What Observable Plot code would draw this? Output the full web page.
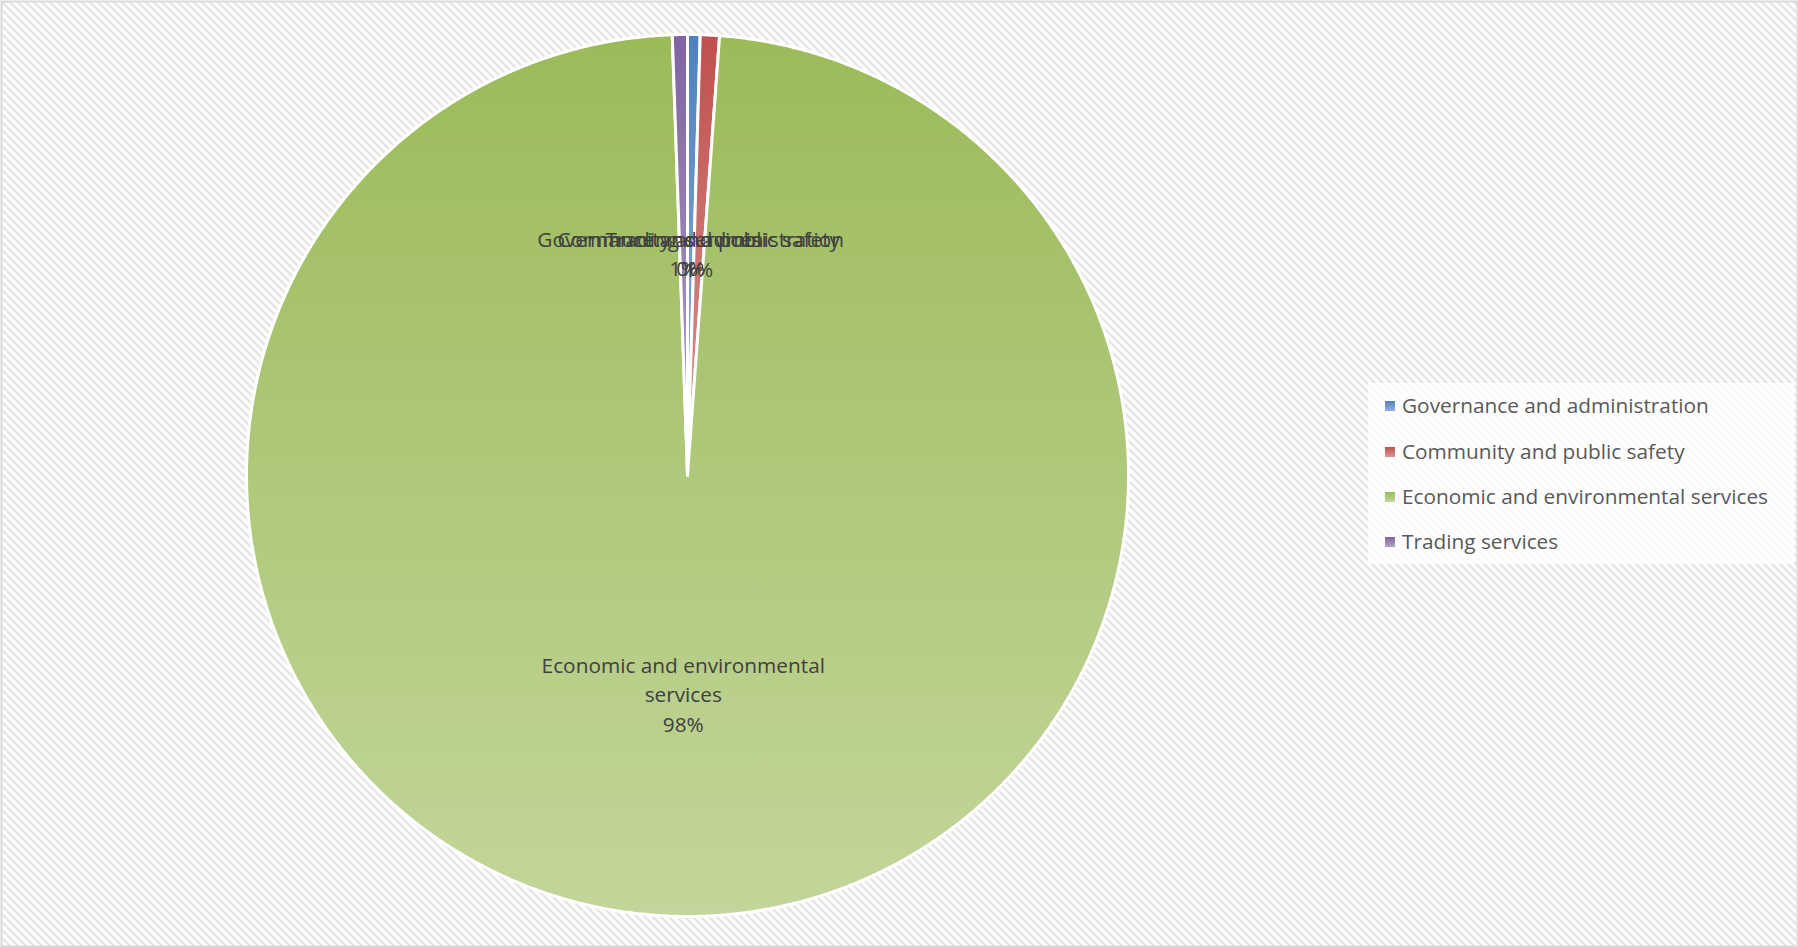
<!DOCTYPE html>
<html>
<head>
<meta charset="utf-8">
<script src="https://cdn.jsdelivr.net/npm/d3@7"></script>
<script src="https://cdn.jsdelivr.net/npm/@observablehq/plot@0.6"></script>
<style>
  html, body { margin: 0; padding: 0; background: #fff; }
  #wrap { position: relative; width: 1798px; height: 947px; overflow: hidden; }
  #legend {
    position: absolute; left: 1368px; top: 383px; width: 426px; height: 181px;
    background: rgba(255,255,255,0.8);
    font-family: "Open Sans", sans-serif; font-size: 20.8px; color: #595959;
  }
  .item { position: absolute; left: 17px; height: 30px; line-height: 30px; white-space: nowrap; }
  .sw { display: inline-block; width: 10px; height: 10px; margin-right: 7px; vertical-align: middle; position: relative; top: -1px; }
</style>
</head>
<body>
<div id="wrap">
  <div id="chart"></div>
  <div id="legend"></div>
</div>
<script>
// ---- data ----
const categories = [
  "Governance and administration",
  "Community and public safety",
  "Economic and environmental services",
  "Trading services"
];
const shares = [0.46, 0.70, 98.29, 0.55];
const sliceLabels = [
  "Governance and administration",
  "Community and public safety",
  "Economic and environmental\nservices",
  "Trading services"
];

// ---- styling ----
const topColors = ["#4f81bd", "#c0504d", "#9bbb59", "#8064a2"];
const bottomColors = ["#95b3d7", "#d99694", "#c3d69b", "#b3a2c7"];
const W = 1798, H = 947;
const cx = 687, cy = 475, R = 441;

const total = d3.sum(shares);
const arcs = d3.pie().sort(null).value(d => d)(shares);

function slicePoints(a) {
  const pts = [{x: 0, y: 0}];
  const n = Math.max(4, Math.ceil((a.endAngle - a.startAngle) / 0.005));
  for (let i = 0; i <= n; i++) {
    const t = a.startAngle + (a.endAngle - a.startAngle) * i / n;
    pts.push({x: Math.sin(t), y: Math.cos(t)});
  }
  pts.push({x: 0, y: 0});
  return pts;
}

const labelRows = arcs.map((a, i) => {
  const m = (a.startAngle + a.endAngle) / 2;
  return {
    x: 0.5 * Math.sin(m), y: 0.5 * Math.cos(m),
    text: sliceLabels[i] + "\n" + Math.round(shares[i] / total * 100) + "%"
  };
});

const marks = [
  Plot.frame({fill: "url(#hatch)", stroke: "#d9d9d9", strokeWidth: 2, inset: 1}),
  ...arcs.map((a, i) => Plot.line(slicePoints(a), {
    x: "x", y: "y", curve: "linear",
    fill: `url(#grad${i})`, stroke: "white", strokeWidth: 3, strokeLinejoin: "round"
  })),
  Plot.text(labelRows, {
    x: "x", y: "y", text: "text", dy: -3,
    fontFamily: "Open Sans", fontSize: 20.8, fill: "#404040", lineHeight: 1.42
  })
];

const chart = Plot.plot({
  width: W, height: H,
  margin: 0,
  x: {domain: [-cx / R, (W - cx) / R], axis: null},
  y: {domain: [-(H - cy) / R, cy / R], axis: null},
  marks
});

const svg = d3.select(chart);
const defs = svg.insert("defs", ":first-child");
const pat = defs.append("pattern").attr("id", "hatch")
  .attr("patternUnits", "userSpaceOnUse").attr("width", 8).attr("height", 8);
pat.append("rect").attr("width", 8).attr("height", 8).attr("fill", "#ffffff");
pat.append("path").attr("d", "M-2,-2 L10,10 M-2,6 L2,10 M6,-2 L10,2")
  .attr("stroke", "#e4e4e4").attr("stroke-width", 2.6);
topColors.forEach((c, i) => {
  const g = defs.append("linearGradient").attr("id", `grad${i}`)
    .attr("x1", 0).attr("y1", 0).attr("x2", 0).attr("y2", 1);
  g.append("stop").attr("offset", "0%").attr("stop-color", c);
  g.append("stop").attr("offset", "100%").attr("stop-color", bottomColors[i]);
});

document.getElementById("chart").appendChild(chart);

// ---- legend ----
const legend = document.getElementById("legend");
const itemTops = [7, 52.5, 98, 143];
categories.forEach((c, i) => {
  const div = document.createElement("div");
  div.className = "item";
  div.style.top = itemTops[i] + "px";
  div.innerHTML = `<span class="sw" style="background:linear-gradient(${topColors[i]},${bottomColors[i]})"></span>${c}`;
  legend.appendChild(div);
});
</script>
</body>
</html>
